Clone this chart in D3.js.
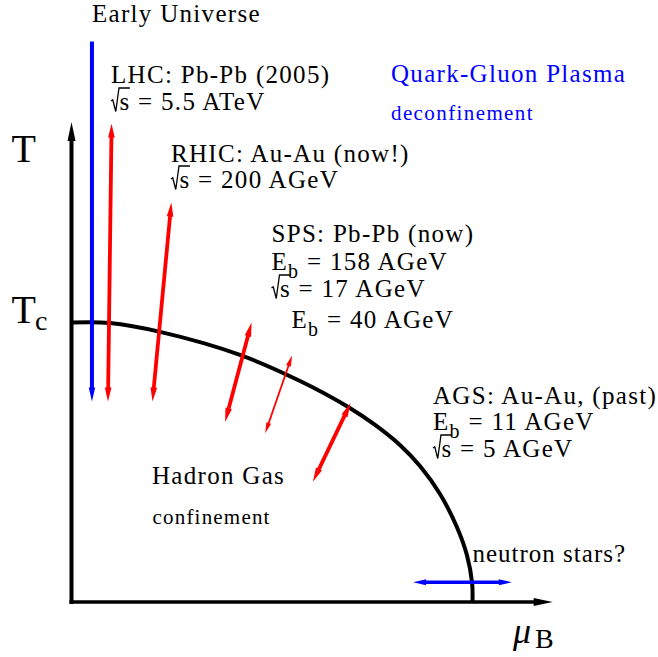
<!DOCTYPE html>
<html>
<head>
<meta charset="utf-8">
<script src="https://cdn.jsdelivr.net/npm/d3@7"></script>
<style>
  html, body { margin: 0; padding: 0; background: #fff; }
  svg { display: block; }
</style>
</head>
<body>
<script>
// Schematic QCD phase diagram: temperature T against baryon chemical potential mu_B (MeV)

// Phase boundary between hadron gas and quark-gluon plasma
const boundaryMu = [0, 96, 221, 420, 570, 690, 757, 819, 869, 919, 961, 986, 999, 1000];
const boundaryT  = [170, 169.7, 164.3, 150.3, 134.4, 118.6, 107.7, 95.5, 82.7, 65.7, 45.6, 28.6, 11.6, 0];

// Heavy-ion beam trajectories (upper and lower ends)
const beamNames  = ["LHC", "RHIC", "SPS 158", "SPS 40", "AGS"];
const beamMuHigh = [100, 249, 449, 550, 696];
const beamTHigh  = [291, 243, 170, 150, 121];
const beamMuLow  = [91, 202, 383, 483, 602];
const beamTLow   = [122, 122, 109.5, 102.6, 73.2];

// Early universe cooling path and neutron-star band
const earlyUniverseMu = 51;
const earlyUniverseT  = [341, 122];
const neutronStarT    = 12;
const neutronStarMu   = [852, 1098];

// Axis extents
const muMax = 1200;
const tMax  = 292;

// Annotation texts
const earlyText  = ["Early Universe"];
const lhcText    = ["LHC: Pb-Pb (2005)", "√s = 5.5 ATeV"];
const rhicText   = ["RHIC: Au-Au (now!)", "√s = 200 AGeV"];
const spsText    = ["SPS: Pb-Pb (now)", "E_b = 158 AGeV", "√s = 17 AGeV"];
const sps40Text  = ["E_b = 40 AGeV"];
const agsText    = ["AGS: Au-Au, (past)", "E_b = 11 AGeV", "√s = 5 AGeV"];
const qgpText    = ["Quark-Gluon Plasma"];
const deconfText = ["deconfinement"];
const hadronText = ["Hadron Gas"];
const confText   = ["confinement"];
const nsText     = ["neutron stars?"];

const W = 658, H = 657;
const RED = "#ff0000", BLUE = "#0000ff", BLACK = "#000000";
const FONT = "'Liberation Serif', 'Times New Roman', serif";

const svg = d3.select("body").append("svg")
  .attr("width", W).attr("height", H)
  .attr("viewBox", `0 0 ${W} ${H}`)
  .style("font-family", FONT);

svg.append("rect").attr("width", W).attr("height", H).attr("fill", "#fff");

const x = d3.scaleLinear().domain([0, muMax]).range([71.5, 552.7]);
const y = d3.scaleLinear().domain([0, tMax]).range([602, 122]);

// Straight arrow with optional narrow heads at either end
function drawArrow(g, x1, y1, x2, y2, o) {
  const dx = x2 - x1, dy = y2 - y1, L = Math.hypot(dx, dy);
  const ux = dx / L, uy = dy / L, px = -uy, py = ux;
  const s1 = o.start ? o.head * 0.7 : 0, s2 = o.end ? o.head * 0.7 : 0;
  g.append("line")
    .attr("x1", x1 + ux * s1).attr("y1", y1 + uy * s1)
    .attr("x2", x2 - ux * s2).attr("y2", y2 - uy * s2)
    .attr("stroke", o.color).attr("stroke-width", o.width);
  const head = (tx, ty, dirx, diry) => {
    const bx = tx - dirx * o.head, by = ty - diry * o.head;
    return [[tx, ty], [bx + px * o.half, by + py * o.half], [bx - px * o.half, by - py * o.half]];
  };
  if (o.end) g.append("polygon").attr("points", head(x2, y2, ux, uy).join(" ")).attr("fill", o.color);
  if (o.start) g.append("polygon").attr("points", head(x1, y1, -ux, -uy).join(" ")).attr("fill", o.color);
}

// One line of annotation text; "√" prefix draws a radical, "_x" makes a subscript
function textLine(g, str, x0, yb, size, color, ls) {
  let tx = x0;
  const hasRoot = str.startsWith("√");
  if (hasRoot) { str = str.slice(1); tx = x0 + size * 0.34; }
  const t = g.append("text")
    .attr("x", tx).attr("y", yb)
    .attr("font-size", size).attr("fill", color)
    .attr("letter-spacing", ls);
  const m = str.match(/^(.*?)_(\w)(.*)$/);
  if (m) {
    t.append("tspan").text(m[1]);
    t.append("tspan").attr("font-size", size * 0.8).attr("dy", size * 0.32).text(m[2]);
    t.append("tspan").attr("dy", -size * 0.32).text(m[3]);
  } else {
    t.text(str);
  }
  if (hasRoot) {
    const ext = t.node().getExtentOfChar(0);
    const top = yb - size * 0.88;
    const right = ext.x + ext.width - ls * 0.5;
    const d = `M${x0},${yb - size * 0.36} L${x0 + size * 0.07},${yb - size * 0.41} ` +
              `L${x0 + size * 0.19},${yb + size * 0.06} L${x0 + size * 0.32},${top} L${right},${top}`;
    g.append("path").attr("d", d).attr("fill", "none").attr("stroke", color)
      .attr("stroke-width", 1.3).attr("stroke-linejoin", "miter");
  }
  return t;
}

function textBlock(g, lines, x0, baselines, size, color, ls) {
  lines.forEach((s, i) => textLine(g, s, x0, baselines[i], size, color, ls));
}

const gPlot = svg.append("g");

// Phase boundary
const boundary = boundaryMu.map((m, i) => [m, boundaryT[i]]);
gPlot.append("path")
  .datum(boundary)
  .attr("d", d3.line().x(d => x(d[0])).y(d => y(d[1])).curve(d3.curveCatmullRom.alpha(0.5)))
  .attr("fill", "none").attr("stroke", BLACK).attr("stroke-width", 4);

// Axes: plain arrows along T and mu_B
drawArrow(gPlot, x(0), y(0) + 2, x(0), y(tMax), { color: BLACK, width: 4, head: 19, half: 4, end: true });
drawArrow(gPlot, x(0) - 2, y(0), x(muMax), y(0), { color: BLACK, width: 3.5, head: 19, half: 4, end: true });

// Early universe: cooling at nearly zero mu_B
drawArrow(gPlot, x(earlyUniverseMu), y(earlyUniverseT[0]), x(earlyUniverseMu), y(earlyUniverseT[1]),
  { color: BLUE, width: 4, head: 14, half: 3.2, end: true });

// Beam trajectories
beamNames.forEach((name, i) => {
  const thin = name === "SPS 40";
  drawArrow(gPlot, x(beamMuLow[i]), y(beamTLow[i]), x(beamMuHigh[i]), y(beamTHigh[i]), {
    color: RED, width: thin ? 1.8 : 3.8, head: thin ? 11 : 14, half: thin ? 2.5 : 3.3,
    start: true, end: true
  });
});

// Neutron stars: cold dense matter
drawArrow(gPlot, x(neutronStarMu[0]), y(neutronStarT), x(neutronStarMu[1]), y(neutronStarT),
  { color: BLUE, width: 3.3, head: 13, half: 3, start: true, end: true });

// Annotations
const gText = svg.append("g");
const FS = 25, LS = 1.3;
textBlock(gText, earlyText, 92, [22], FS, BLACK, LS);
textBlock(gText, lhcText, 111, [83, 110], FS, BLACK, LS);
textBlock(gText, rhicText, 171, [162, 188], FS, BLACK, LS);
textBlock(gText, spsText, 271.5, [242, 269.5, 297], FS, BLACK, LS);
textBlock(gText, sps40Text, 291.5, [328], FS, BLACK, LS);
textBlock(gText, agsText, 433, [403.5, 430, 457], FS, BLACK, LS);
textBlock(gText, qgpText, 391, [82], FS, BLUE, LS);
textBlock(gText, deconfText, 391, [120], 21, BLUE, 1.4);
textBlock(gText, hadronText, 152, [483.5], FS, BLACK, LS);
textBlock(gText, confText, 152.5, [523.5], 21, BLACK, 1.2);
textBlock(gText, nsText, 472.5, [562], FS, BLACK, 1.0);

// Axis titles
gText.append("text").attr("x", 11.5).attr("y", 161.7).attr("font-size", 40).text("T");
const tc = gText.append("text").attr("y", 323.3);
tc.append("tspan").attr("x", 11.5).attr("font-size", 40).text("T");
tc.append("tspan").attr("x", 35).attr("y", 330).attr("font-size", 28).text("c");
const mu = gText.append("text").attr("y", 643);
mu.append("tspan").attr("x", 513).attr("font-size", 36).attr("font-style", "italic").text("μ");
mu.append("tspan").attr("x", 535).attr("y", 648.3).attr("font-size", 28).text("B");
</script>
</body>
</html>
